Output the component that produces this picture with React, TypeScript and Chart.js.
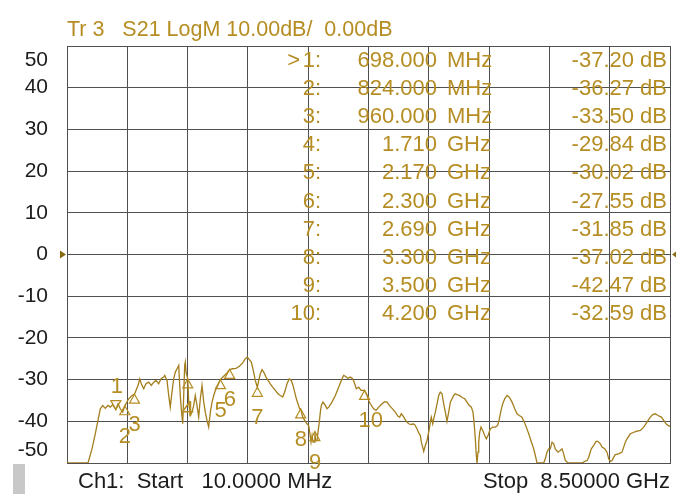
import React, { useEffect, useRef } from "react";
import { Chart, registerables } from "chart.js";

Chart.register(...registerables);

// ---- data ----
const startGHz = 0.01;
const stopGHz = 8.5;

const freqGHz = [
  0.010, 0.306, 0.362, 0.408, 0.446, 0.479, 0.513, 0.549, 0.587, 0.620, 0.653, 0.698, 0.728, 0.760, 0.794, 0.824,
  0.879, 0.925, 0.960, 1.010, 1.034, 1.056, 1.090, 1.122, 1.160, 1.197, 1.231, 1.263, 1.301, 1.334, 1.372, 1.386,
  1.418, 1.442, 1.464, 1.488, 1.512, 1.535, 1.559, 1.583, 1.591, 1.605, 1.619, 1.639, 1.653, 1.667, 1.676, 1.686,
  1.710, 1.724, 1.746, 1.770, 1.794, 1.816, 1.840, 1.864, 1.887, 1.911, 1.935, 1.957, 1.981, 2.005, 2.028, 2.052,
  2.076, 2.098, 2.122, 2.170, 2.216, 2.263, 2.300, 2.343, 2.390, 2.436, 2.484, 2.521, 2.549, 2.577, 2.605, 2.633,
  2.661, 2.690, 2.709, 2.732, 2.756, 2.780, 2.812, 2.840, 2.872, 2.906, 2.943, 2.981, 3.013, 3.047, 3.075, 3.108,
  3.140, 3.168, 3.192, 3.216, 3.239, 3.262, 3.286, 3.300, 3.329, 3.365, 3.389, 3.413, 3.427, 3.446, 3.460, 3.474,
  3.490, 3.500, 3.510, 3.530, 3.544, 3.562, 3.577, 3.591, 3.614, 3.647, 3.671, 3.695, 3.741, 3.788, 3.836, 3.882,
  3.906, 3.929, 3.966, 3.999, 4.033, 4.061, 4.083, 4.117, 4.150, 4.200, 4.234, 4.258, 4.280, 4.328, 4.361, 4.399,
  4.445, 4.483, 4.516, 4.548, 4.586, 4.633, 4.670, 4.694, 4.717, 4.737, 4.765, 4.787, 4.821, 4.858, 4.882, 4.906,
  4.938, 4.962, 4.985, 4.999, 5.018, 5.032, 5.055, 5.079, 5.093, 5.111, 5.125, 5.139, 5.159, 5.173, 5.196, 5.220,
  5.244, 5.266, 5.290, 5.314, 5.337, 5.360, 5.384, 5.407, 5.431, 5.455, 5.477, 5.501, 5.534, 5.572, 5.610, 5.642,
  5.674, 5.703, 5.726, 5.741, 5.759, 5.773, 5.783, 5.797, 5.807, 5.821, 5.839, 5.863, 5.891, 5.914, 5.938, 5.970,
  6.004, 6.041, 6.074, 6.097, 6.121, 6.145, 6.173, 6.205, 6.238, 6.276, 6.314, 6.346, 6.378, 6.416, 6.449, 6.477,
  6.511, 6.533, 6.557, 6.581, 6.604, 6.628, 6.722, 6.744, 6.768, 6.792, 6.815, 6.839, 6.863, 6.885, 6.923, 6.956,
  6.980, 7.003, 7.026, 7.064, 7.261, 7.299, 7.332, 7.355, 7.392, 7.426, 7.458, 7.486, 7.519, 7.543, 7.581, 7.613,
  7.637, 7.660, 7.684, 7.708, 7.730, 7.778, 7.824, 7.848, 7.871, 7.895, 7.941, 7.965, 8.022, 8.082, 8.130, 8.176,
  8.223, 8.257, 8.293, 8.331, 8.378, 8.412, 8.444, 8.472, 8.500,
];

const s21dB = [
  -50, -50, -46.6, -43.0, -39.8, -37.0, -36.2, -36.9, -36.2, -36.6, -36.0, -37.2, -35.8, -37.0, -37.8, -36.3,
  -34.6, -33.8, -33.5, -31.4, -29.8, -31.0, -32.2, -31.0, -30.6, -31.4, -30.6, -30.2, -31.0, -29.8, -29.4, -29.0,
  -30.2, -33.8, -36.6, -33.0, -29.8, -28.2, -27.4, -26.6, -29.4, -33.8, -37.0, -40.6, -33.8, -26.6, -25.8, -28.2,
  -29.8, -35.4, -38.6, -37.8, -36.2, -33.8, -36.2, -39.0, -34.6, -31.4, -35.4, -37.8, -39.8, -41.4, -37.8, -35.4,
  -33.8, -32.6, -31.8, -30.0, -29.2, -28.4, -27.6, -27.4, -27.3, -26.8, -26.0, -25.0, -24.6, -25.2, -25.8, -27.8,
  -30.2, -31.9, -30.2, -28.6, -27.6, -28.2, -29.4, -30.2, -31.0, -31.8, -32.6, -33.4, -33.8, -34.2, -33.0, -31.0,
  -29.8, -30.2, -31.4, -33.0, -34.6, -35.8, -37.0, -37.0, -39.0, -40.0, -40.6, -41.0, -42.6, -45.0, -43.4, -45.0,
  -45.0, -42.5, -44.6, -44.6, -42.6, -40.2, -37.8, -36.2, -35.4, -36.2, -37.0, -36.6, -35.4, -33.8, -31.8, -29.8,
  -29.0, -29.2, -29.7, -29.4, -29.8, -31.0, -32.2, -31.8, -32.6, -32.6, -33.8, -35.0, -35.8, -37.0, -37.4, -36.6,
  -35.8, -35.3, -35.4, -36.2, -36.9, -37.8, -38.8, -39.0, -38.2, -38.6, -39.4, -40.0, -40.6, -40.8, -40.6, -40.8,
  -41.8, -42.8, -43.4, -45.0, -46.2, -47.2, -45.8, -44.6, -43.4, -41.8, -40.2, -39.0, -40.6, -39.4, -37.8, -35.8,
  -33.8, -33.0, -33.4, -35.8, -37.8, -40.0, -37.8, -35.4, -34.6, -33.8, -33.4, -33.6, -33.8, -34.3, -34.6, -35.4,
  -36.2, -36.6, -37.8, -40.2, -44.2, -48.2, -50, -47.4, -45.0, -42.6, -41.4, -42.2, -43.4, -44.2, -43.4, -41.8,
  -41.4, -41.4, -41.0, -39.4, -37.4, -35.8, -34.6, -33.8, -34.2, -35.4, -37.0, -38.2, -38.6, -39.0, -40.2, -41.4,
  -43.0, -44.2, -45.4, -46.6, -48.2, -50, -50, -49.0, -47.4, -46.6, -46.6, -45.0, -45.4, -46.6, -47.4, -47.0,
  -46.6, -47.8, -49.4, -50, -50, -49.6, -49.4, -48.6, -46.6, -45.8, -44.8, -44.8, -45.4, -46.2, -46.6, -47.4,
  -49.0, -49.6, -49.4, -48.6, -48.0, -47.8, -47.4, -46.2, -45.0, -44.2, -43.0, -42.8, -42.4, -42.2, -41.4, -40.2,
  -39.0, -38.4, -38.2, -38.6, -39.0, -39.8, -40.6, -41.0, -41.2,
];

const markerNames = ["1", "2", "3", "4", "5", "6", "7", "8", "9", "10"];
const markerFreqGHz = [0.698, 0.824, 0.96, 1.71, 2.17, 2.3, 2.69, 3.3, 3.5, 4.2];
const markerDB = [-37.2, -36.27, -33.5, -29.84, -30.02, -27.55, -31.85, -37.02, -42.47, -32.59];

const yTickLabels = [50, 40, 30, 20, 10, 0, -10, -20, -30, -40, -50];
const titleText = "Tr 3   S21 LogM 10.00dB/  0.00dB";
const startText = "Ch1:  Start   10.0000 MHz";
const stopText = "Stop  8.50000 GHz";

// ---- styles ----
const FONT = '"Liberation Sans", Arial, sans-serif';
const GOLD = "#b58d22";
const TRACE = "#a47e1c";
const GRID = "#505050";
const DARK = "#1c1c1c";

function fmtFreq(f: number) {
  if (f < 1) return [(f * 1000).toFixed(3), "MHz"];
  return [f.toFixed(3), "GHz"];
}

const overlay = {
  id: "vnaOverlay",
  afterDraw(chart: any) {
    const { ctx, chartArea: ca, scales } = chart;
    const x = scales.x;
    const y = scales.y;
    ctx.save();

    // y tick labels
    ctx.font = `21px ${FONT}`;
    ctx.fillStyle = DARK;
    ctx.textAlign = "right";
    ctx.textBaseline = "middle";
    yTickLabels.forEach((v) => {
      let py = y.getPixelForValue(v);
      py = Math.min(Math.max(py, ca.top + 14), ca.bottom - 13);
      ctx.fillText(String(v), ca.left - 19, py);
    });

    // reference arrows
    const y0 = y.getPixelForValue(0);
    ctx.fillStyle = "#8a6a12";
    ctx.beginPath();
    ctx.moveTo(ca.left - 7, y0 - 4);
    ctx.lineTo(ca.left - 1, y0);
    ctx.lineTo(ca.left - 7, y0 + 4);
    ctx.closePath();
    ctx.fill();
    ctx.beginPath();
    ctx.moveTo(ca.right + 6, y0 - 3);
    ctx.lineTo(ca.right + 2, y0);
    ctx.lineTo(ca.right + 6, y0 + 3);
    ctx.closePath();
    ctx.fill();

    // title
    ctx.fillStyle = GOLD;
    ctx.textAlign = "left";
    ctx.font = `21.5px ${FONT}`;
    ctx.fillText(titleText, ca.left, 30);

    // marker table
    ctx.font = `22px ${FONT}`;
    markerNames.forEach((name, i) => {
      const cy = ca.top + 15 + i * 28.1;
      const [num, unit] = fmtFreq(markerFreqGHz[i]);
      ctx.textAlign = "right";
      if (i === 0) ctx.fillText(">", 300, cy);
      ctx.fillText(name + ":", 321, cy);
      ctx.fillText(num, 437, cy);
      ctx.textAlign = "left";
      ctx.fillText(unit, 447, cy);
      ctx.textAlign = "right";
      ctx.fillText(markerDB[i].toFixed(2) + " dB", 667, cy);
    });

    // markers on trace
    ctx.strokeStyle = GOLD;
    ctx.lineWidth = 1.2;
    ctx.font = `22px ${FONT}`;
    markerNames.forEach((name, i) => {
      const px = x.getPixelForValue(markerFreqGHz[i]);
      const py = y.getPixelForValue(markerDB[i]);
      ctx.beginPath();
      if (i === 0) {
        ctx.moveTo(px, py);
        ctx.lineTo(px - 5, py - 9);
        ctx.lineTo(px + 5, py - 9);
        ctx.closePath();
        ctx.stroke();
        ctx.textAlign = "left";
        ctx.fillText(name, px - 5, py - 23);
      } else {
        ctx.moveTo(px, py);
        ctx.lineTo(px - 5, py + 9);
        ctx.lineTo(px + 5, py + 9);
        ctx.closePath();
        ctx.stroke();
        ctx.textAlign = "left";
        ctx.fillText(name, px - 6, py + 31);
      }
    });

    // footer
    ctx.fillStyle = "#c8c8c8";
    ctx.fillRect(13, ca.bottom + 1, 12, 30);
    ctx.fillStyle = DARK;
    ctx.font = `22px ${FONT}`;
    ctx.textAlign = "left";
    ctx.fillText(startText, 78, 482);
    ctx.textAlign = "right";
    ctx.fillText(stopText, ca.right, 482);

    ctx.restore();
  },
};

export default function App() {
  const ref = useRef<HTMLCanvasElement | null>(null);

  useEffect(() => {
    if (!ref.current) return;
    const chart = new Chart(ref.current, {
      type: "line",
      data: {
        datasets: [
          {
            data: freqGHz.map((f, i) => ({ x: f, y: s21dB[i] })),
            borderColor: TRACE,
            borderWidth: 1.3,
            pointRadius: 0,
            tension: 0,
            fill: false,
          },
        ],
      },
      options: {
        animation: false,
        responsive: false,
        maintainAspectRatio: false,
        layout: { padding: { left: 67, right: 18, top: 46, bottom: 34 } },
        plugins: {
          legend: { display: false },
          tooltip: { enabled: false },
          title: { display: false },
        },
        scales: {
          x: {
            type: "linear",
            min: startGHz,
            max: stopGHz,
            ticks: { display: false },
            grid: { color: GRID, lineWidth: 1, drawTicks: false },
            border: { color: GRID, width: 1 },
            afterBuildTicks: (s: any) => {
              const t = [];
              for (let i = 0; i <= 10; i++) t.push({ value: startGHz + (i * (stopGHz - startGHz)) / 10 });
              s.ticks = t;
            },
          },
          y: {
            type: "linear",
            min: -50,
            max: 50,
            ticks: { display: false, stepSize: 10 },
            grid: { color: GRID, lineWidth: 1, drawTicks: false },
            border: { color: GRID, width: 1 },
          },
        },
      },
      plugins: [overlay],
    } as any);
    return () => chart.destroy();
  }, []);

  return (
    <div style={{ position: "absolute", left: 0, top: 0, width: 688, height: 497, background: "#fff" }}>
      <canvas ref={ref} width={688} height={497} style={{ display: "block" }} />
    </div>
  );
}
